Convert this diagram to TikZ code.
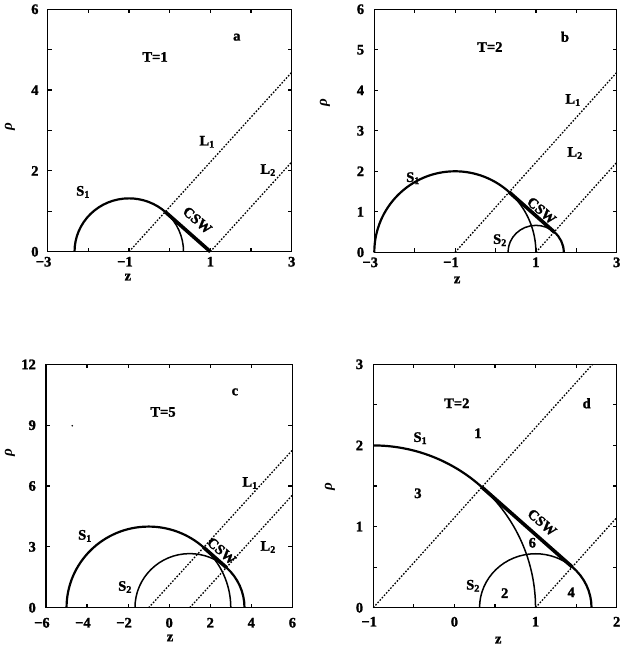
\documentclass[tikz,border=0pt]{standalone}
\usepackage{fontspec}
\setmainfont{Liberation Serif}[BoldFeatures={FakeBold=1.6}]
\begin{document}
\begin{tikzpicture}[x=1pt,y=1pt,
  lab/.style={font=\fontsize{14.5}{16}\selectfont\bfseries, inner sep=0pt},
  rholab/.style={font=\fontsize{15}{16}\selectfont\bfseries\itshape, inner sep=0pt, rotate=90},
  frame/.style={line width=1.5pt},
  tk/.style={line width=1.2pt},
  shthick/.style={line width=2.2pt},
  shthin/.style={line width=1.5pt},
  csw/.style={line width=3.6pt},
  mline/.style={line width=1.3pt, dash pattern=on 1.6pt off 1.6pt},
  cswlab/.style={lab, rotate=-41}]
\useasboundingbox (0,0) rectangle (621,650);

% ---------------- panel a ----------------
\begin{scope}[shift={(169.7pt,398.3pt)},x=40.67pt,y=40.4pt]
  \draw[frame] (-3,0) rectangle (3,6);
  \foreach \t in {-2,...,2} {\draw[tk] (\t,0) -- ++(0,4pt); \draw[tk] (\t,6) -- ++(0,-4pt);}
  \foreach \t in {1,...,5} {\draw[tk] (-3,\t) -- ++(4pt,0); \draw[tk] (3,\t) -- ++(-4pt,0);}
  \foreach \t/\s in {-3/\llap{−}3,-1/\llap{−}1,1/1,3/3} \node[lab,anchor=north] at ([yshift=-5pt]\t,0) {\s};
  \foreach \t in {0,2,4,6} \node[lab,anchor=east] at ([xshift=-9pt]-3,\t) {\t};
  \node[lab] (a-z) at (-1.03,-0.63) {z};
  \node[rholab] (a-rho) at ([xshift=-37.7pt]-3,3.10) {ρ};
  \coordinate (a-o1) at (-1,0);
  \coordinate (a-o2) at (1,0);
  \coordinate (a-e1) at (3,4.44);
  \coordinate (a-e2) at (3,2.22);
  \draw[mline] (a-o1) -- (a-e1);
  \draw[mline] (a-o2) -- (a-e2);
  \draw[shthick] (-2.34,0) arc[start angle=180,end angle=48,x radius=1.34,y radius=1.32] coordinate (a-p);
  \draw[shthin] (a-p) arc[start angle=48,end angle=0,x radius=1.34,y radius=1.32];
  \draw[csw] (a-p) -- (a-o2);
  \node[lab] (a-T) at (-0.36,4.82) {T=1};
  \node[lab] (a-a) at (1.65,5.31) {a};
  \node[lab] (a-L1) at (0.92,2.72) {L\textsubscript{1}};
  \node[lab] (a-L2) at (2.42,2.02) {L\textsubscript{2}};
  \node[lab] (a-S1) at (-2.13,1.48) {S\textsubscript{1}};
  \node[cswlab] (a-csw) at (0.68,0.78) {CSW};
\end{scope}

% ---------------- panel b ----------------
\begin{scope}[shift={(495.5pt,397.7pt)},x=40.4pt,y=40.5pt]
  \draw[frame] (-3,0) rectangle (3,6);
  \foreach \t in {-2,...,2} {\draw[tk] (\t,0) -- ++(0,4pt); \draw[tk] (\t,6) -- ++(0,-4pt);}
  \foreach \t in {1,...,5} {\draw[tk] (-3,\t) -- ++(4pt,0); \draw[tk] (3,\t) -- ++(-4pt,0);}
  \foreach \t/\s in {-3/\llap{−}3,-1/\llap{−}1,1/1,3/3} \node[lab,anchor=north] at ([yshift=-5pt]\t,0) {\s};
  \foreach \t in {0,...,6} \node[lab,anchor=east] at ([xshift=-10pt]-3,\t) {\t};
  \node[lab] (b-z) at (-0.95,-0.68) {z};
  \node[rholab] (b-rho) at ([xshift=-49.3pt]-3,3.70) {ρ};
  \coordinate (b-o1) at (-1,0);
  \coordinate (b-o2) at (1,0);
  \coordinate (b-e1) at (3,4.44);
  \coordinate (b-e2) at (3,2.22);
  \draw[mline] (b-o1) -- (b-e1);
  \draw[mline] (b-o2) -- (b-e2);
  \draw[shthick] (-3,0) arc[start angle=180,end angle=48,radius=2] coordinate (b-p1);
  \draw[shthin] (b-p1) arc[start angle=48,end angle=0,radius=2];
  \draw[shthin] (0.31,0) arc[start angle=180,end angle=49,x radius=0.69,y radius=0.665] coordinate (b-p2);
  \draw[shthick] (b-p2) arc[start angle=49,end angle=0,x radius=0.69,y radius=0.665];
  \draw[csw] (b-p1) -- (b-p2);
  \node[lab] (b-T) at (-0.14,5.07) {T=2};
  \node[lab] (b-b) at (1.72,5.32) {b};
  \node[lab] (b-L1) at (1.92,3.76) {L\textsubscript{1}};
  \node[lab] (b-L2) at (1.97,2.45) {L\textsubscript{2}};
  \node[lab] (b-S1) at (-2.04,1.83) {S\textsubscript{1}};
  \node[lab] (b-S2) at (0.11,0.30) {S\textsubscript{2}};
  \node[cswlab] (b-csw) at (1.14,1.03) {CSW};
\end{scope}

% ---------------- panel c ----------------
\begin{scope}[shift={(169.2pt,42.3pt)},x=20.53pt,y=20.28pt]
  \draw[frame] (-6,0) rectangle (6,12);
  \foreach \t in {-4,-2,0,2,4} {\draw[tk] (\t,0) -- ++(0,4pt); \draw[tk] (\t,12) -- ++(0,-4pt);}
  \foreach \t in {3,6,9} {\draw[tk] (-6,\t) -- ++(4pt,0); \draw[tk] (6,\t) -- ++(-4pt,0);}
  \foreach \t/\s in {-6/\llap{−}6,-4/\llap{−}4,-2/\llap{−}2,0/0,2/2,4/4,6/6} \node[lab,anchor=north] at ([yshift=-10pt]\t,0) {\s};
  \foreach \t in {0,3,6,9,12} \node[lab,anchor=east] at ([xshift=-10pt]-6,\t) {\t};
  \node[lab] (c-z) at (0.04,-1.49) {z};
  \node[rholab] (c-rho) at ([xshift=-36pt]-6,7.64) {ρ};
  \fill (-4.72,8.97) circle (0.9pt);
  \coordinate (c-o1) at (-1,0);
  \coordinate (c-o2) at (1,0);
  \coordinate (c-e1) at (6,7.77);
  \coordinate (c-e2) at (6,5.55);
  \draw[mline] (c-o1) -- (c-e1);
  \draw[mline] (c-o2) -- (c-e2);
  \draw[shthick] (-5,0) arc[start angle=180,end angle=48,radius=4] coordinate (c-p1);
  \draw[shthin] (c-p1) arc[start angle=48,end angle=0,radius=4];
  \draw[shthin] (-1.667,0) arc[start angle=180,end angle=48,radius=2.667] coordinate (c-p2);
  \draw[shthick] (c-p2) arc[start angle=48,end angle=0,radius=2.667];
  \draw[csw] (c-p1) -- (c-p2);
  \node[lab] (c-T) at (-0.30,9.65) {T=5};
  \node[lab] (c-c) at (3.2,10.64) {c};
  \node[lab] (c-L1) at (3.94,6.15) {L\textsubscript{1}};
  \node[lab] (c-L2) at (4.82,2.99) {L\textsubscript{2}};
  \node[lab] (c-S1) at (-4.1,3.54) {S\textsubscript{1}};
  \node[lab] (c-S2) at (-2.15,1.02) {S\textsubscript{2}};
  \node[cswlab] (c-csw) at (2.55,2.8) {CSW};
\end{scope}

% ---------------- panel d ----------------
\begin{scope}[shift={(454.4pt,42.3pt)},x=81.13pt,y=81.13pt]
  \draw[frame] (-1,0) rectangle (2,3);
  \foreach \t in {-0.5,0,0.5,1,1.5} {\draw[tk] (\t,0) -- ++(0,4pt); \draw[tk] (\t,3) -- ++(0,-4pt);}
  \foreach \t in {0.5,1,1.5,2,2.5} {\draw[tk] (-1,\t) -- ++(4pt,0); \draw[tk] (2,\t) -- ++(-4pt,0);}
  \foreach \t/\s in {-1/\llap{−}1,0/0,1/1,2/2} \node[lab,anchor=north] at ([yshift=-9pt]\t,0) {\s};
  \foreach \t in {0,1,2,3} \node[lab,anchor=east] at ([xshift=-10pt]-1,\t) {\t};
  \node[lab] (d-z) at (0.54,-0.40) {z};
  \node[rholab] (d-rho) at ([xshift=-43.3pt]-1,1.49) {ρ};
  \coordinate (d-o1) at (-1,0);
  \coordinate (d-o2) at (1,0);
  \coordinate (d-e1) at (1.7027,3);
  \coordinate (d-e2) at (2,1.11);
  \draw[mline] (d-o1) -- (d-e1);
  \draw[mline] (d-o2) -- (d-e2);
  \draw[shthick] (-1,2) arc[start angle=90,end angle=48,radius=2] coordinate (d-p1);
  \draw[shthin] (d-p1) arc[start angle=48,end angle=0,radius=2];
  \draw[shthin] (0.31,0) arc[start angle=180,end angle=49,x radius=0.69,y radius=0.665] coordinate (d-p2);
  \draw[shthick] (d-p2) arc[start angle=49,end angle=0,x radius=0.69,y radius=0.665];
  \draw[csw] (d-p1) -- (d-p2);
  \node[lab] (d-T) at (0.03,2.52) {T=2};
  \node[lab] (d-d) at (1.63,2.52) {d};
  \node[lab] (d-r1) at (0.29,2.15) {1};
  \node[lab] (d-S1) at (-0.42,2.09) {S\textsubscript{1}};
  \node[lab] (d-r3) at (-0.45,1.41) {3};
  \node[cswlab] (d-csw) at (1.08,1.05) {CSW};
  \node[lab] (d-r6) at (0.96,0.80) {6};
  \node[lab] (d-S2) at (0.23,0.27) {S\textsubscript{2}};
  \node[lab] (d-r2) at (0.62,0.18) {2};
  \node[lab] (d-r4) at (1.44,0.19) {4};
\end{scope}
\end{tikzpicture}
\end{document}
